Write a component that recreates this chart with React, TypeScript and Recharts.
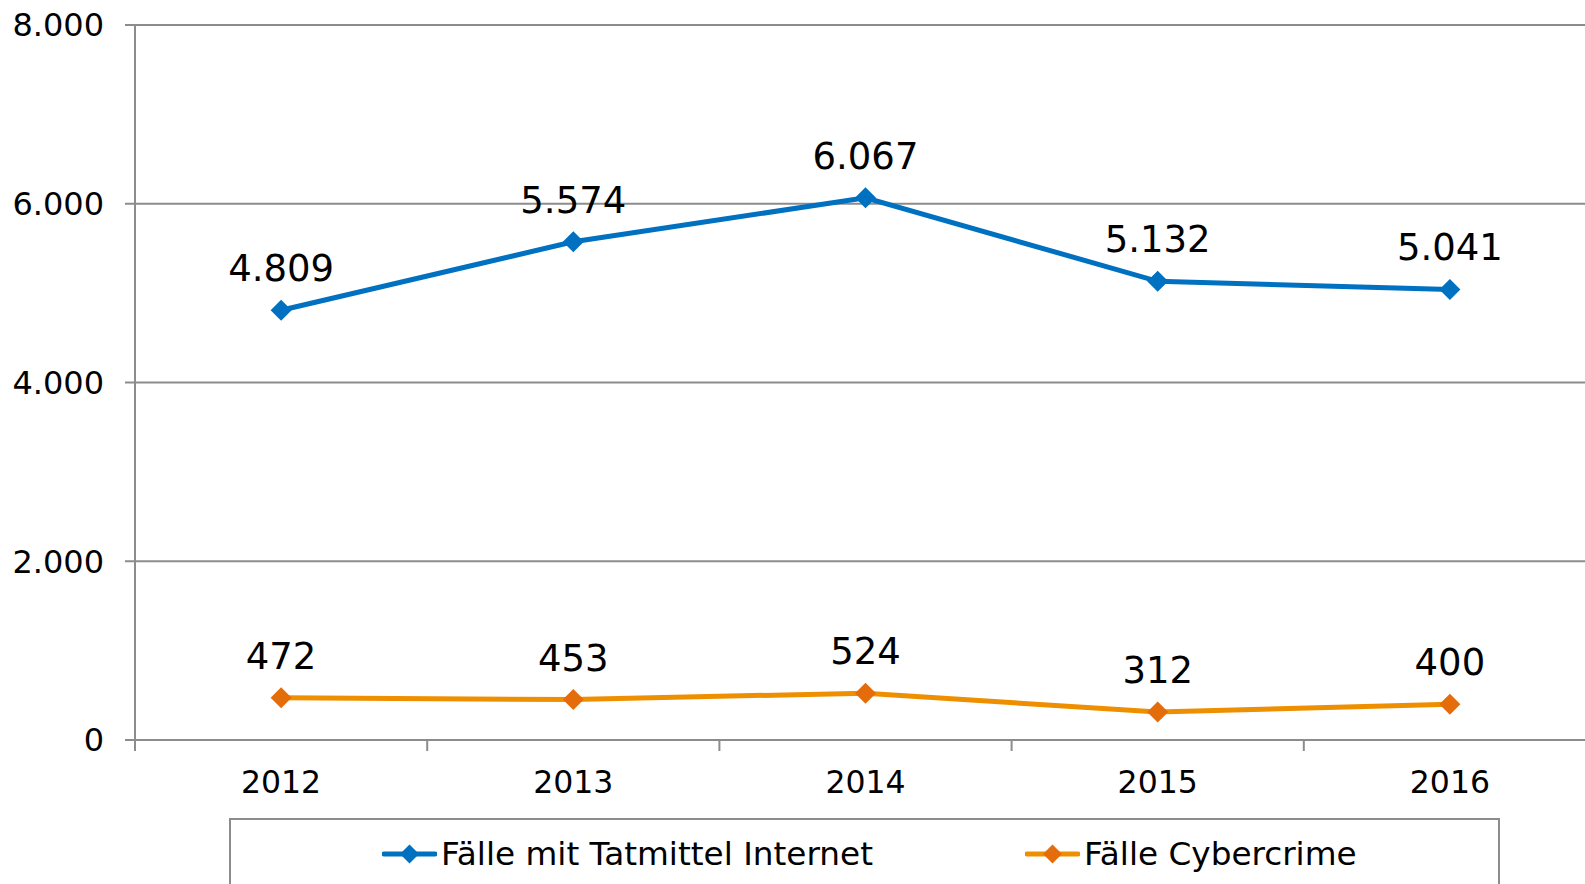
import React from 'react';
import { LineChart, Line, XAxis, YAxis, CartesianGrid, Legend, LabelList } from 'recharts';

const years = ['2012', '2013', '2014', '2015', '2016'];
const internetCases = [4809, 5574, 6067, 5132, 5041];
const cybercrimeCases = [472, 453, 524, 312, 400];
const yTicks = [0, 2000, 4000, 6000, 8000];

const FONT = '"DejaVu Sans", Verdana, sans-serif';
const GRID = '#8c8c8c';

const SERIES = [
  { key: 'internet', name: 'Fälle mit Tatmittel Internet', line: '#0070C0', marker: '#0070C0' },
  { key: 'cyber', name: 'Fälle Cybercrime', line: '#EE8F00', marker: '#E46C0A' },
];

const data = years.map((year, i) => ({
  year,
  internet: internetCases[i],
  cyber: cybercrimeCases[i],
}));

const fmt = (v: any) => String(v).replace(/\B(?=(\d{3})+(?!\d))/g, '.');

const Diamond = ({ cx, cy, fill, size = 10.5 }: any) => {
  if (cx == null || cy == null) return null;
  const r = size;
  return (
    <polygon
      points={`${cx},${cy - r} ${cx + r},${cy} ${cx},${cy + r} ${cx - r},${cy}`}
      fill={fill}
    />
  );
};

const YearTick = ({ x, y, payload }: any) => {
  const left = x - (payload.offset || 0);
  return (
    <g>
      <line x1={left} y1={y} x2={left} y2={y + 11} stroke={GRID} strokeWidth={2} />
      <text x={x} y={y + 53} textAnchor="middle" fontSize={31.5} fontFamily={FONT} fill="#000">
        {payload.value}
      </text>
    </g>
  );
};

const LegendBox = () => (
  <div
    style={{
      width: 1271,
      height: 100,
      boxSizing: 'border-box',
      border: `2px solid ${GRID}`,
      background: '#fff',
      display: 'flex',
      alignItems: 'flex-start',
      paddingLeft: 151,
    }}
  >
    {SERIES.map((s, i) => (
      <div
        key={s.key}
        style={{
          display: 'flex',
          alignItems: 'center',
          height: 68,
          marginLeft: i === 0 ? 0 : 152,
        }}
      >
        <svg width={55} height={24} style={{ marginRight: 4 }}>
          <line x1={2} y1={12} x2={53} y2={12} stroke={s.line} strokeWidth={5} strokeLinecap="round" />
          <Diamond cx={27.5} cy={12} size={9.5} fill={s.marker} />
        </svg>
        <span style={{ fontFamily: FONT, fontSize: 32.7, color: '#000', whiteSpace: 'nowrap' }}>{s.name}</span>
      </div>
    ))}
  </div>
);

export default function App() {
  return (
    <div
      style={{
        position: 'absolute',
        left: 0,
        top: 0,
        width: 1585,
        height: 884,
        overflow: 'hidden',
        background: '#fff',
      }}
    >
      <LineChart width={1600} height={884} data={data} margin={{ top: 25, right: 4, left: 0, bottom: 84 }}>
        <CartesianGrid vertical={false} stroke={GRID} strokeWidth={2} />
        <XAxis
          dataKey="year"
          scale="band"
          height={60}
          axisLine={{ stroke: GRID, strokeWidth: 2 }}
          tickLine={false}
          tickSize={0}
          tickMargin={0}
          tick={<YearTick />}
          interval={0}
        />
        <YAxis
          width={135}
          domain={[0, 8000]}
          ticks={yTicks}
          tickFormatter={fmt}
          axisLine={{ stroke: GRID, strokeWidth: 2 }}
          tickLine={{ stroke: GRID, strokeWidth: 2 }}
          tickSize={10}
          tickMargin={21}
          tick={{ fontSize: 32, fontFamily: FONT, fill: '#000' }}
        />
        <Legend
          content={<LegendBox />}
          wrapperStyle={{ left: 229, top: 818, width: 1271, height: 0, overflow: 'visible' }}
        />
        {SERIES.map((s) => (
          <Line
            key={s.key}
            dataKey={s.key}
            name={s.name}
            stroke={s.line}
            strokeWidth={5}
            dot={<Diamond fill={s.marker} size={10.5} />}
            activeDot={false}
            isAnimationActive={false}
          >
            <LabelList
              dataKey={s.key}
              position="top"
              offset={29}
              formatter={fmt}
              fontSize={37}
              fontFamily={FONT}
              fill="#000"
            />
          </Line>
        ))}
      </LineChart>
    </div>
  );
}
